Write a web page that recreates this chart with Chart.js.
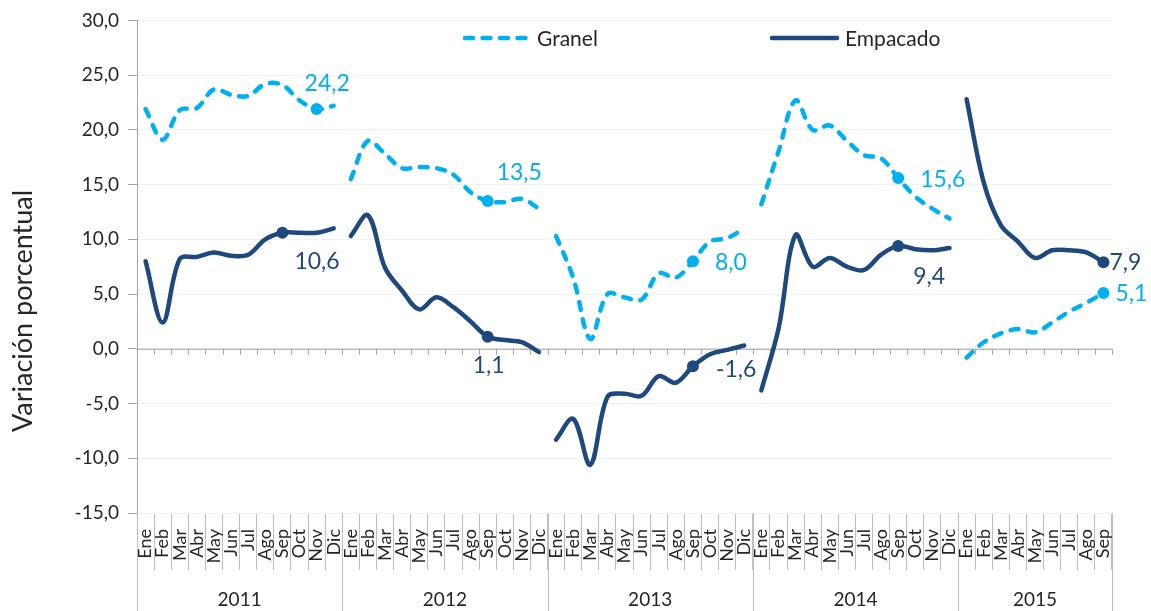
<!DOCTYPE html>
<html>
<head>
<meta charset="utf-8">
<script src="https://cdn.jsdelivr.net/npm/chart.js@4.4.0/dist/chart.umd.min.js"></script>
<style>
  html, body { margin: 0; background: #fff; }
</style>
</head>
<body>
<canvas id="priceChart" width="1151" height="611"></canvas>
<script>
const months = ['Ene', 'Feb', 'Mar', 'Abr', 'May', 'Jun', 'Jul', 'Ago', 'Sep', 'Oct', 'Nov', 'Dic'];
const years = ['2011', '2012', '2013', '2014', '2015'];
const monthsInYear = [12, 12, 12, 12, 9];

const granel = [
    21.9, 19.1, 21.8, 22.0, 23.7, 23.2, 23.1, 24.2, 24.1, 22.7, 21.9, 22.2,
    15.5, 19.0, 17.8, 16.5, 16.6, 16.5, 15.9, 14.3, 13.5, 13.4, 13.7, 12.8,
    10.3, 6.5, 0.9, 5.0, 4.7, 4.5, 6.9, 6.5, 8.0, 9.8, 10.1, 11.0,
    13.2, 18.0, 22.7, 20.0, 20.4, 19.0, 17.7, 17.4, 15.6, 13.9, 12.8, 11.9,
    -0.8, 0.6, 1.4, 1.8, 1.5, 2.4, 3.4, 4.2, 5.1
];
const empacado = [
    8.0, 2.4, 8.2, 8.4, 8.8, 8.5, 8.6, 10.0, 10.6, 10.6, 10.6, 11.0,
    10.3, 12.2, 7.4, 5.3, 3.6, 4.7, 3.8, 2.5, 1.1, 0.8, 0.6, -0.3,
    -8.3, -6.4, -10.6, -4.4, -4.1, -4.3, -2.5, -3.1, -1.6, -0.5, -0.1, 0.3,
    -3.8, 1.8, 10.4, 7.5, 8.3, 7.5, 7.2, 8.6, 9.4, 9.1, 9.0, 9.2,
    22.8, 15.2, 11.3, 9.8, 8.3, 9.0, 9.0, 8.8, 7.9
];

// points that carry a marker and a value label
const granelMarks = [10, 20, 32, 44, 56];
const granelMarkText = ['24,2', '13,5', '8,0', '15,6', '5,1'];
const empacadoMarks = [8, 20, 32, 44, 56];
const empacadoMarkText = ['10,6', '1,1', '-1,6', '9,4', '7,9'];

const GRANEL = '#00B0F0';
const EMPACADO = '#1F497D';
const FONT = 'Lato';

// build month labels and the index range of each year
const labels = [];
const yearStart = [];
monthsInYear.forEach(n => {
    yearStart.push(labels.length);
    for (let m = 0; m < n; m++) labels.push(months[m]);
});

function yearSlice(values, y) {
    const from = yearStart[y], to = from + monthsInYear[y];
    return values.map((v, i) => (i >= from && i < to) ? v : null);
}

const datasets = [];
years.forEach((yr, y) => {
    datasets.push({
        label: 'Granel',
        data: yearSlice(granel, y),
        borderColor: GRANEL,
        backgroundColor: GRANEL,
        borderWidth: 4.5,
        borderDash: [8, 9.5],
        borderCapStyle: 'round',
        tension: 0.35,
        pointRadius: ctx => granelMarks.includes(ctx.dataIndex) ? 6 : 0,
        pointHoverRadius: 0,
        pointBorderWidth: 0
    });
    datasets.push({
        label: 'Empacado',
        data: yearSlice(empacado, y),
        borderColor: EMPACADO,
        backgroundColor: EMPACADO,
        borderWidth: 4.5,
        borderCapStyle: 'round',
        tension: 0.35,
        pointRadius: ctx => empacadoMarks.includes(ctx.dataIndex) ? 6 : 0,
        pointHoverRadius: 0,
        pointBorderWidth: 0
    });
});

const extras = {
    id: 'extras',
    beforeDatasetsDraw(chart) {
        const { ctx, chartArea, scales: { x, y } } = chart;
        // category axis crossing at zero, with tick marks between months
        const y0 = y.getPixelForValue(0);
        const half = (x.getPixelForValue(1) - x.getPixelForValue(0)) / 2;
        ctx.save();
        ctx.strokeStyle = '#a6a6a6';
        ctx.lineWidth = 1;
        ctx.beginPath();
        ctx.moveTo(chartArea.left, y0 + 0.5);
        ctx.lineTo(chartArea.right, y0 + 0.5);
        for (let i = 0; i <= labels.length; i++) {
            const px = Math.round(x.getPixelForValue(i) - half) + 0.5;
            ctx.moveTo(px, y0);
            ctx.lineTo(px, y0 + 6);
        }
        ctx.stroke();
        ctx.restore();
    },
    afterDraw(chart) {
        const { ctx, chartArea, scales: { x, y } } = chart;
        const half = (x.getPixelForValue(1) - x.getPixelForValue(0)) / 2;
        ctx.save();

        // year separators and year labels
        ctx.strokeStyle = '#bfbfbf';
        ctx.lineWidth = 1;
        ctx.beginPath();
        yearStart.concat([labels.length]).forEach(i => {
            const px = Math.round(x.getPixelForValue(i) - half) + 0.5;
            ctx.moveTo(px, chartArea.bottom);
            ctx.lineTo(px, chart.height);
        });
        ctx.stroke();
        ctx.fillStyle = '#262626';
        ctx.font = '19px ' + FONT;
        ctx.textAlign = 'center';
        ctx.textBaseline = 'middle';
        years.forEach((yr, k) => {
            const a = x.getPixelForValue(yearStart[k]) - half;
            const b = x.getPixelForValue(yearStart[k] + monthsInYear[k] - 1) + half;
            ctx.fillText(yr, (a + b) / 2, 600);
        });

        // axis title
        ctx.save();
        ctx.translate(23, 311);
        ctx.rotate(-Math.PI / 2);
        ctx.font = '27px ' + FONT;
        ctx.fillText('Variación porcentual', 0, 0);
        ctx.restore();

        // legend
        ctx.lineWidth = 4.5;
        ctx.lineCap = 'round';
        ctx.strokeStyle = GRANEL;
        ctx.setLineDash([8, 9.5]);
        ctx.beginPath();
        ctx.moveTo(465, 38);
        ctx.lineTo(532, 38);
        ctx.stroke();
        ctx.setLineDash([]);
        ctx.strokeStyle = EMPACADO;
        ctx.beginPath();
        ctx.moveTo(772, 38);
        ctx.lineTo(837, 38);
        ctx.stroke();
        ctx.fillStyle = '#262626';
        ctx.font = '21px ' + FONT;
        ctx.textAlign = 'left';
        ctx.fillText('Granel', 537, 39);
        ctx.fillText('Empacado', 845, 39);

        // value labels beside the marked points
        const granelOffsets = [[-12, -25], [9, -28], [22, 1], [22, 2], [12, 1]];
        const empacadoOffsets = [[12, 29], [-15, 29], [23, 3], [15, 31], [6, 0]];
        ctx.font = '23px ' + FONT;
        ctx.fillStyle = GRANEL;
        granelMarks.forEach((idx, k) => {
            const px = x.getPixelForValue(idx), py = y.getPixelForValue(granel[idx]);
            ctx.fillText(granelMarkText[k], px + granelOffsets[k][0], py + granelOffsets[k][1]);
        });
        ctx.fillStyle = EMPACADO;
        empacadoMarks.forEach((idx, k) => {
            const px = x.getPixelForValue(idx), py = y.getPixelForValue(empacado[idx]);
            ctx.fillText(empacadoMarkText[k], px + empacadoOffsets[k][0], py + empacadoOffsets[k][1]);
        });
        ctx.restore();
    }
};

const ctx = document.getElementById('priceChart').getContext('2d');
const chart = new Chart(ctx, {
    type: 'line',
    data: { labels: labels, datasets: datasets },
    options: {
        responsive: false,
        animation: false,
        spanGaps: false,
        layout: { padding: { top: 17, right: 39, left: 0, bottom: 0 } },
        plugins: {
            legend: { display: false },
            tooltip: { enabled: false }
        },
        scales: {
            x: {
                type: 'category',
                offset: true,
                grid: {
                    offset: true,
                    drawOnChartArea: false,
                    drawTicks: true,
                    tickLength: 57,
                    color: '#bfbfbf'
                },
                border: { display: false },
                ticks: {
                    autoSkip: false,
                    minRotation: 90,
                    maxRotation: 90,
                    padding: -41,
                    color: '#262626',
                    font: { family: FONT, size: 18 }
                },
                afterFit: s => { s.height = 98; }
            },
            y: {
                min: -15,
                max: 30,
                ticks: {
                    stepSize: 5,
                    padding: 9,
                    color: '#262626',
                    font: { family: FONT, size: 19 },
                    callback: v => v.toFixed(1).replace('.', ',')
                },
                grid: {
                    color: '#f0f0f0',
                    tickColor: '#a6a6a6',
                    tickLength: 9
                },
                border: { color: '#a6a6a6' },
                afterFit: s => { s.width = 137; }
            }
        }
    },
    plugins: [extras]
});
</script>
</body>
</html>
